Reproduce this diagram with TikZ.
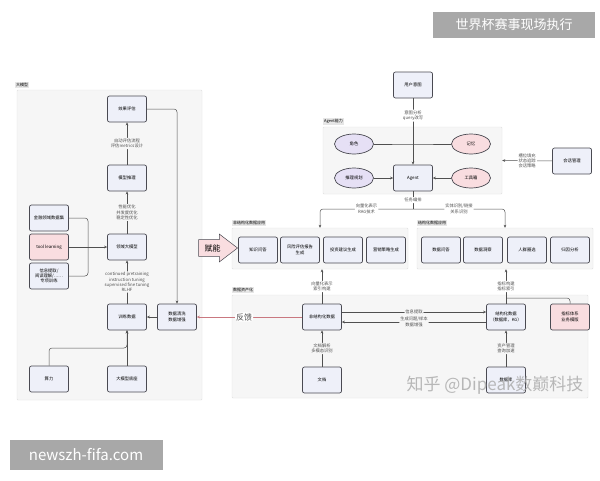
\documentclass[tikz,border=0pt]{standalone}
\usepackage{fontspec}
\setmainfont{Noto Sans CJK SC}
\usetikzlibrary{positioning,shapes.geometric,shapes.arrows,arrows.meta,calc}
\definecolor{BoxFill}{HTML}{EEF0F9}
\definecolor{BoxLine}{HTML}{4A4A52}
\definecolor{PanelFill}{HTML}{F6F6F6}
\definecolor{PanelLine}{HTML}{E0E0E0}
\definecolor{TagFill}{HTML}{E6E6E6}
\definecolor{PinkFill}{HTML}{F9DDE0}
\definecolor{LilacFill}{HTML}{E6E0F5}
\definecolor{ArrowGray}{HTML}{505050}
\definecolor{FeedRed}{HTML}{C97880}
\definecolor{MarkGray}{HTML}{A8A8A8}

\begin{document}
\begin{tikzpicture}[x=1pt,y=-1pt,
  font=\fontsize{4.3}{5.3}\selectfont,
  box/.style={draw=BoxLine, fill=BoxFill, rounded corners=2pt, line width=0.7pt,
    minimum width=39pt, minimum height=26pt, align=center, inner sep=1pt},
  pinkbox/.style={box, fill=PinkFill},
  oval/.style={ellipse, draw=BoxLine, line width=0.7pt, minimum width=39pt,
    minimum height=20pt, inner sep=1pt},
  panel/.style={draw=PanelLine, fill=PanelFill, rounded corners=1pt, inner sep=0pt},
  tag/.style={fill=TagFill, inner sep=1pt, font=\fontsize{4}{5}\selectfont},
  note/.style={fill=PanelFill, align=center, inner sep=1pt},
  notew/.style={note, fill=white},
  ln/.style={ArrowGray, line width=0.5pt, rounded corners=3pt},
  arr/.style={ln, -{Stealth[length=3pt,width=2.6pt]}}]
\useasboundingbox[fill=white] (0,0) rectangle (600,480);

% Panels
\node[panel, minimum width=185pt, minimum height=310pt] (dmxpanel) at (109.5,245) {};
\node[tag, anchor=south west] (dmxtag) at (15,88) {大模型};
\node[panel, minimum width=179pt, minimum height=67pt] (agpanel) at (412.5,160.5) {};
\node[tag, anchor=south west] (agtag) at (323,125) {Agent能力};
\node[panel, minimum width=176pt, minimum height=41pt] (fjgpanel) at (320,248.5) {};
\node[tag, anchor=south west] (fjgtag) at (232,226) {非结构化数据应用};
\node[panel, minimum width=176pt, minimum height=41pt] (jgpanel) at (505,248.5) {};
\node[tag, anchor=south west] (jgtag) at (417,226) {结构化数据应用};
\node[panel, minimum width=356pt, minimum height=103pt] (sjpanel) at (410,346.5) {};
\node[tag, anchor=south west] (sjtag) at (232,293) {数据资产化};

% Large model side
\node[box] (xgpg) at (127,109) {效果评估};
\node[box] (mxtl) at (127,178) {模型推理};
\node[box] (lydmx) at (127,247) {领域大模型};
\node[box] (xlsj) at (127,317) {训练数据};
\node[box] (dmxdz) at (127,379) {大模型底座};
\node[box] (sl) at (49,379) {算力};
\node[box] (sjqx) at (177,317) {数据清洗\\数据增强};
\node[box] (jrsj) at (49,218) {金融领域数据集};
\node[pinkbox] (tool) at (49,247) {tool learning};
\node[box] (xxtq) at (49,276) {信息提取/\\阅读理解/……\\专项训练};
\coordinate (hb) at (88,247);

\draw[arr] (mxtl) -- node[note] {自动评估流程\\评估metrics设计} (xgpg);
\draw[arr] (lydmx) -- node[note] {性能优化\\并发度优化\\稳定性优化} (mxtl);
\draw[arr] (xlsj) -- node[note] {continued pretraining\\instruction tuning\\supervised fine tuning\\RLHF} (lydmx);
\draw[arr] (xgpg.east) -| (sjqx.north);
\draw[arr] (sjqx) -- (xlsj);
\draw[arr] (dmxdz) -- (xlsj);
\draw[arr] (sl.north) |- ($(xlsj.south)!0.5!(dmxdz.north)$) -- (xlsj.south);
\draw[ln] (jrsj.east) -| (hb);
\draw[ln] (xxtq.east) -| (hb);
\draw[arr] (tool) -- (lydmx);

% Enabling arrow
\node[single arrow, draw=BoxLine, fill=PinkFill, line width=0.5pt, minimum height=39pt,
  single arrow head extend=5.5pt, single arrow tip angle=75, inner xsep=2pt, inner ysep=4.5pt,
  font=\fontsize{8}{9}\selectfont] (fn) at (212.5,248) {赋能};

% Agent
\node[box] (yhyt) at (413,85) {用户意图};
\node[box] (agent) at (413,178) {Agent};
\node[oval, fill=LilacFill] (js) at (354,144) {角色};
\node[oval, fill=PinkFill] (jy) at (471,144) {记忆};
\node[oval, fill=LilacFill] (tlgh) at (354,178) {推理规划};
\node[oval, fill=PinkFill] (gjx) at (471,178) {工具箱};
\node[box] (hhgl) at (572,161) {会话管理};
\coordinate (jd) at (413,144);
\coordinate (rw) at (413,209);

\draw[ln] (yhyt) -- node[notew, pos=0.38] {意图分析\\query改写} (jd);
\draw[ln] (js) -- (jd) -- (jy);
\draw[arr] (jd) -- (agent);
\draw[arr] (tlgh) -- (agent);
\draw[arr] (gjx) -- (agent);
\draw[arr] (hhgl) -- node[notew] {槽位填充\\状态追踪\\会话策略} (agpanel.east);
\draw[ln] (agent) -- node[notew] {任务编排} (rw);
\draw[arr] (rw) -| node[notew, pos=0.25] {向量化表示\\RAG技术} (fjgpanel.north);
\draw[arr] (rw) -| node[notew, pos=0.25] {实体识别/链接\\关系识别} (jgpanel.north);

% Applications
\node[box] (zswd) at (258,250) {知识问答};
\node[box] (fxpg) at (300,250) {风险评估报告\\生成};
\node[box] (tzjy) at (343,250) {投资建议生成};
\node[box] (yxcl) at (386,250) {营销策略生成};
\node[box] (sjwd) at (441,250) {数据问答};
\node[box] (sjdc) at (483,250) {数据洞察};
\node[box] (rqqx) at (527,250) {人群圈选};
\node[box] (gyfx) at (570,250) {归因分析};

% Data layer
\node[box] (fjgsj) at (322,317) {非结构化数据};
\node[box] (wd) at (322,380) {文档};
\node[box] (jgsj) at (506,317) {结构化数据\\（数据库，KG）};
\node[box] (sjk) at (506,380) {数据库};
\node[pinkbox] (zbtx) at (570,317) {指标体系\\业务模版};
\coordinate (zbjd) at (506,298);

\draw[arr] (wd) -- node[note] {文档解析\\多模态识别} (fjgsj);
\draw[arr] (fjgsj) -- node[notew] {向量化表示\\索引构建} (fjgsj |- fjgpanel.south);
\draw[arr] (sjk) -- node[note] {资产管理\\查询加速} (jgsj);
\draw[arr] (jgsj) -- node[notew] {指标构建\\指标索引} (jgsj |- jgpanel.south);
\draw[ln] (zbtx.north) |- (zbjd);
\draw[arr] ([yshift=5pt]fjgsj.east) -- node[note] {信息提取} ([yshift=5pt]jgsj.west);
\draw[arr] ([yshift=-5pt]jgsj.west) -- node[note] {生成问题/样本\\数据增强} ([yshift=-5pt]fjgsj.east);
\draw[arr, draw=FeedRed] (fjgsj) -- node[notew, font=\fontsize{8}{9}\selectfont, pos=0.55] {反馈} (sjqx);

% Overlays
\node[fill=MarkGray, text=white, font=\fontsize{13}{14}\selectfont, minimum width=162pt,
  minimum height=26pt] (sjb) at (514,25) {世界杯赛事现场执行};
\node[fill=MarkGray, text=white, font=\fontsize{15}{16}\selectfont, minimum width=153pt,
  minimum height=30pt] (wz) at (86,455) {newszh-fifa.com};
\node[text=MarkGray, opacity=0.8, font=\fontsize{17}{18}\selectfont] (zh) at (495,385) {知乎 @Dipeak数巅科技};
\end{tikzpicture}
\end{document}
